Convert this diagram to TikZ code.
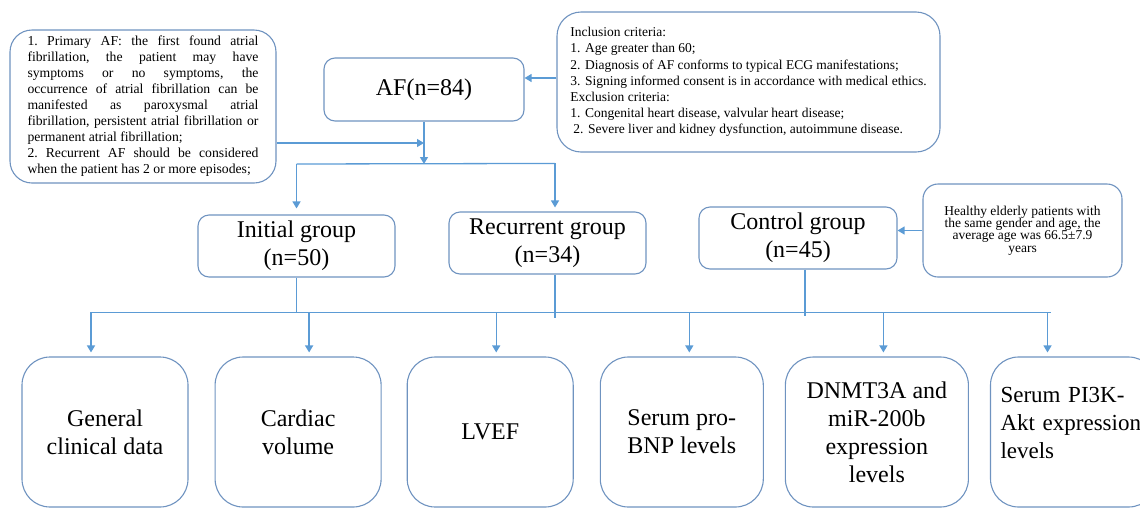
\documentclass[tikz,border=0pt]{standalone}
\usepackage{fontspec}
\setmainfont{Liberation Serif}
\newfontfamily\itemfont{Liberation Serif}
\usepackage{xcolor}
\definecolor{AFframe}{HTML}{6F93C0}
\definecolor{AFwire}{HTML}{5B9BD5}
\usepackage{tikz}
\usetikzlibrary{arrows.meta, positioning, calc}

\begin{document}
\begin{tikzpicture}[
  x=1pt, y=-1pt,
  note/.style={
    draw=AFframe, line width=1.1pt, rounded corners=22pt,
    fill=white, inner sep=4pt
  },
  grp/.style={
    draw=AFframe, line width=1.1pt, rounded corners=11pt,
    minimum width=197pt, minimum height=62pt, align=center,
    font=\fontsize{24}{28}\selectfont, inner sep=2pt
  },
  itembox/.style={
    draw=AFframe, line width=1.1pt, rounded corners=28pt,
    minimum width=166pt, minimum height=150pt, align=center,
    font=\itemfont\fontsize{24}{28}\selectfont, inner sep=4pt
  },
  conn/.style={-{Triangle[length=7pt, width=8pt]}, line width=1.3pt, color=AFwire},
  wire/.style={line width=1.3pt, color=AFwire},
]

\useasboundingbox (0,0) rectangle (1140,512);
\clip (0,0) rectangle (1140,512);

% Top row — definitions, cohort, criteria
\node[note, minimum width=266pt, minimum height=153pt, text width=231pt, align=justify,
  font={\fontsize{13.7}{16}\selectfont\frenchspacing\tolerance=9999}] (def) at (143,106.5)
  {1. Primary AF: the first found atrial\linebreak fibrillation, the patient may have\linebreak
   symptoms or no symptoms, the\linebreak occurrence of atrial fibrillation can be\linebreak
   manifested as paroxysmal atrial\linebreak fibrillation, persistent atrial fibrillation or\linebreak
   permanent atrial fibrillation;\par
   2. Recurrent AF should be considered\linebreak when the patient has 2 or more episodes;};

\node[grp, minimum width=200pt, minimum height=63pt] (af) at (424,89.5) {AF(n=84)};

\node[note, rounded corners=24pt, minimum width=383pt, minimum height=140pt, align=left,
  font={\fontsize{13.5}{16.2}\selectfont}] (crit) at (748.5,82)
  {Inclusion criteria:\\
   1. Age greater than 60;\\
   2. Diagnosis of AF conforms to typical ECG manifestations;\\
   3. Signing informed consent is in accordance with medical ethics.\\
   Exclusion criteria:\\
   1. Congenital heart disease, valvular heart disease;\\
   \hspace{3pt}2. Severe liver and kidney dysfunction, autoimmune disease.};

% Groups
\node[grp] (init) at (296.5,246) {Initial group\\(n=50)};
\node[grp] (rec) at (547.5,243) {Recurrent group\\(n=34)};
\node[grp, minimum width=198pt] (ctrl) at (798,238) {Control group\\(n=45)};

\node[note, rounded corners=15pt, minimum width=199pt, minimum height=93pt, align=center,
  font={\fontsize{13.5}{12.4}\selectfont\lineskiplimit=-4pt}] (healthy) at (1022.5,230.5)
  {Healthy elderly patients with\\the same gender and age, the\\average age was 66.5±7.9\\years};

% Measured items
\node[itembox] (gen) at (105,432) {General\\clinical data};
\node[itembox, right=26pt of gen] (vol) {Cardiac\\volume};
\node[itembox, right=25pt of vol] (lvef) {LVEF};
\node[itembox, minimum width=163pt, right=26pt of lvef] (bnp) {Serum pro-\\BNP levels};
\node[itembox, minimum width=183pt, right=21pt of bnp] (dnmt) {DNMT3A and\\miR-200b\\expression\\levels};
\node[itembox, right=21pt of dnmt, align=left, text width=146pt, inner sep=10pt,
  font=\itemfont\fontsize{23}{28}\selectfont] (pik)
  {Serum PI3K-\\\mbox{Akt expression}\\levels\\[-10pt]\mbox{}};

% Arrows
\coordinate (split) at (424,164);
\coordinate (join) at (424,143);
\coordinate (critIn) at (0,78);
\coordinate (bus) at (0,313);

\draw[conn] (af.south) -- (split);
\draw[conn] (def.east |- join) -- (join);
\draw[conn] (crit.west |- critIn) -- (af.east |- critIn);
\draw[conn] (healthy.west) -- (healthy.west -| ctrl.east);

\draw[wire] (init.north |- split) -- ($(rec.north)+(7.5,-48)$);
\draw[conn, shorten >=6pt] (init.north |- split) -- (init.north);
\draw[conn, shorten >=4pt] ($(rec.north)+(7.5,-48)$) -- ($(rec.north)+(7.5,0)$);

\draw[wire] (init.south) -- (init.south |- bus);
\draw[wire] ($(rec.south)+(7.5,0)$) -- ($(rec.south)+(7.5,43)$);
\draw[wire] ($(ctrl.south)+(7,0)$) -- ($(ctrl.south)+(7,46)$);
\draw[wire] ($(gen.north)+(-14,-44)$) -- ($(pik.north)+(-23,-44)$);
\foreach \nm/\dx in {gen/-14, vol/11, lvef/6, bnp/7.5, dnmt/6.5, pik/-26}
  \draw[conn, shorten >=4pt] ($(\nm.north)+(\dx,-44)$) -- ($(\nm.north)+(\dx,0)$);

\end{tikzpicture}
\end{document}
